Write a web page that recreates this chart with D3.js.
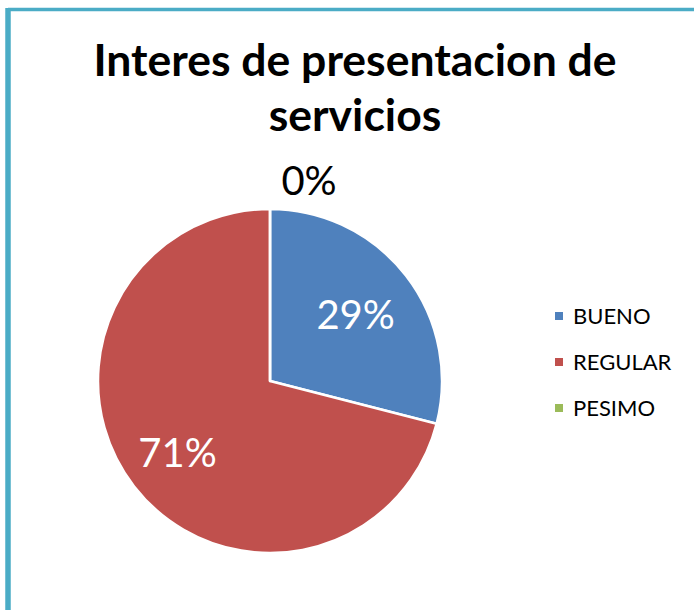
<!DOCTYPE html>
<html><head><meta charset="utf-8">
<script src="https://cdn.jsdelivr.net/npm/d3@7"></script>
<style>body{margin:0;background:#fff}svg{display:block}</style>
</head><body>
<svg id="c" width="694" height="610"></svg>
<script>
const categories = ["BUENO", "REGULAR", "PESIMO"];
const values = [29, 71, 0];
const labels = ["29%", "71%", "0%"];
const colors = ["#4f81bd", "#c0504d", "#9bbb59"];
const titleLines = ["Interes de presentacion de", "servicios"];

const svg = d3.select("#c");
const font = "Lato, 'Open Sans', sans-serif";

// border
svg.append("line").attr("x1", 8).attr("x2", 694).attr("y1", 9.5).attr("y2", 9.5)
  .attr("stroke", "#4bacc6").attr("stroke-width", 3.5);
svg.append("line").attr("x1", 8).attr("x2", 8).attr("y1", 8).attr("y2", 610)
  .attr("stroke", "#4bacc6").attr("stroke-width", 5.5);

// title
svg.append("g").selectAll("text").data(titleLines).join("text")
  .attr("x", 355).attr("y", (d, i) => 76 + i * 55)
  .attr("text-anchor", "middle").attr("font-family", font)
  .attr("font-weight", "bold").attr("font-size", 44.5).attr("fill", "#000")
  .text(d => d);

const cx = 270, cy = 381, r = 172;
const data = categories.map((c, i) => ({ c, v: values[i], l: labels[i], col: colors[i] }));
const pie = d3.pie().value(d => d.v).sort(null);
const arcs = pie(data);
const arc = d3.arc().innerRadius(0).outerRadius(r);
const g = svg.append("g").attr("transform", `translate(${cx},${cy})`);
g.selectAll("path").data(arcs).join("path")
  .attr("d", arc).attr("fill", d => d.data.col)
  .attr("stroke", "#fff").attr("stroke-width", 2.5).attr("stroke-linejoin", "round");

// labels
g.selectAll("text.lbl").data(arcs).join("text").attr("class", "lbl")
  .attr("transform", d => {
    if (d.data.v === 0) return `translate(39,${-r - 28})`;
    const f = d.index === 0 ? 0.63 : 0.68;
    const p = d3.arc().innerRadius(r * f).outerRadius(r * f).centroid(d);
    return `translate(${p[0]},${p[1]})`;
  })
  .attr("text-anchor", "middle").attr("dy", "0.35em")
  .attr("font-family", font).attr("font-size", 40)
  .attr("fill", d => d.data.v === 0 ? "#000" : "#fff")
  .text(d => d.data.l);

// legend
const leg = svg.append("g").attr("transform", "translate(555,316)");
const li = leg.selectAll("g").data(data).join("g")
  .attr("transform", (d, i) => `translate(0,${i * 46})`);
li.append("rect").attr("x", 0).attr("y", -4).attr("width", 8).attr("height", 8).attr("fill", d => d.col);
li.append("text").attr("x", 18).attr("y", 0).attr("dy", "0.35em")
  .attr("font-family", font).attr("font-size", 22).attr("fill", "#000").text(d => d.c);
</script>
</body></html>
